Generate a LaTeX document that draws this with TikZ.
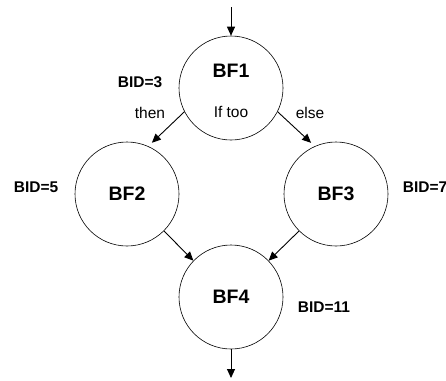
\documentclass[tikz,border=0pt]{standalone}
\usepackage{fontspec}
\setmainfont{Liberation Sans}
\usetikzlibrary{arrows.meta}
\begin{document}
\begin{tikzpicture}[x=1pt,y=1pt,yscale=-1,xscale=1,
  blk/.style={draw, circle, line width=0.6pt, minimum size=104pt, inner sep=0pt, font=\fontsize{19.5}{22}\selectfont\bfseries},
  bid/.style={font=\fontsize{15.5}{18}\selectfont\bfseries},
  lbl/.style={font=\fontsize{15.5}{18}\selectfont},
  flow/.style={-{Triangle[length=9pt,width=8pt]}, line width=0.9pt}]
\useasboundingbox (0,0) rectangle (446,380);

% blocks
\draw (231,88) node[blk] (bf1) {};
\draw (127,194) node[blk] (bf2) {BF2};
\draw (336,194) node[blk] (bf3) {BF3};
\draw (231,297) node[blk] (bf4) {BF4};

\draw (231,71) node[font=\fontsize{19.5}{22}\selectfont\bfseries] (t1) {BF1};
\draw (231,112) node[lbl] (cond) {If too};

% entry and exit
\coordinate (entry) at (231,7);
\coordinate (exit) at (231,378);

\draw[flow] (entry) -- (bf1.north);
\draw[flow, shorten >=5pt] (bf1.207) -- (bf2.66);
\draw[flow, shorten >=5pt] (bf1.-27) -- (bf3.114);
\draw[flow] (bf2.-45) -- (bf4.136);
\draw[flow] (bf3.225) -- (bf4.44);
\draw[flow] (bf4.south) -- (exit);

% labels
\draw (150,113) node[lbl] (thn) {then};
\draw (310,113) node[lbl] (els) {else};
\draw (140,82) node[bid] (id1) {BID=3};
\draw (36,187) node[bid] (id2) {BID=5};
\draw (425,187) node[bid] (id3) {BID=7};
\draw (324,307) node[bid] (id4) {BID=11};
\end{tikzpicture}
\end{document}
